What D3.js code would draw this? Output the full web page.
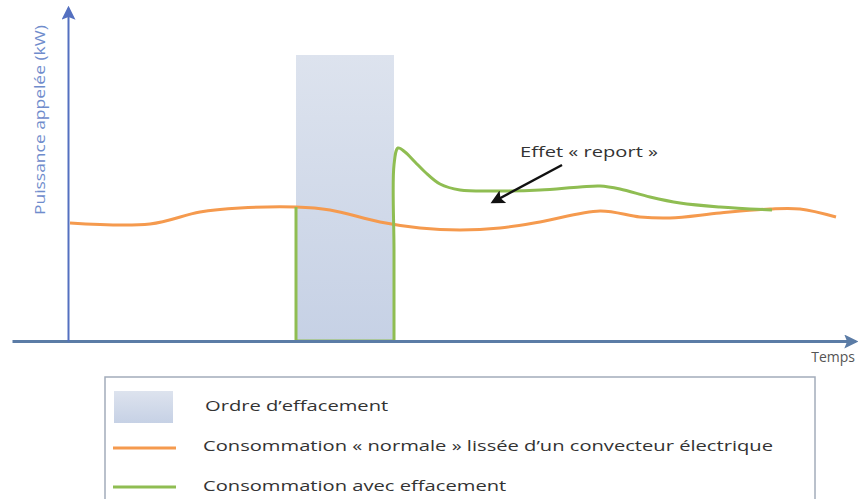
<!DOCTYPE html>
<html>
<head>
<meta charset="utf-8">
<script src="https://cdn.jsdelivr.net/npm/d3@7"></script>
<style>
  body { margin: 0; background: #fff; }
  svg { display: block; font-family: "Open Sans", sans-serif; }
</style>
</head>
<body>
<div id="chart"></div>
<script>
// time (arbitrary units) and power (arbitrary units)
const normalT = [2, 82, 132, 172, 228, 262, 312, 352, 392, 432, 472, 532, 572, 602, 652, 702, 732, 768];
const normalP = [118, 117, 129, 133, 134, 131, 119, 113, 111, 113, 119, 130, 124, 123, 128, 132, 132, 124];

const cutT = [228, 228, 326];
const cutP = [134, 0, 0];

const reboundT = [326, 326, 326, 330, 337, 347, 357, 372, 392, 432, 472, 512, 532, 552, 582, 612, 652, 704];
const reboundP = [0, 91, 176, 193, 189, 179, 169, 157, 151, 150, 151, 154, 155, 152, 144, 138, 134, 131];

const orderWindow = [228, 326];
const orderTop = 286;

const labels = {
  y: "Puissance appelée (kW)",
  x: "Temps",
  note: "Effet « report »"
};
const notePos = [452, 188];
const arrowFrom = [494, 176], arrowTo = [425, 139];

const legendItems = ["Ordre d’effacement",
  "Consommation « normale » lissée d’un convecteur électrique",
  "Consommation avec effacement"];

const width = 864, height = 499;
const orange = "#f59a4e", green = "#8fbd52";

const svg = d3.select("#chart").append("svg")
  .attr("width", width).attr("height", height);

const defs = svg.append("defs");
const grad = defs.append("linearGradient").attr("id", "ordre")
  .attr("x1", 0).attr("y1", 0).attr("x2", 0).attr("y2", 1);
grad.append("stop").attr("offset", "0%").attr("stop-color", "#dde3ee");
grad.append("stop").attr("offset", "100%").attr("stop-color", "#c6d1e5");

function arrowMarker(id, color, w, h) {
  defs.append("marker").attr("id", id)
    .attr("viewBox", "0 0 10 10").attr("refX", 8).attr("refY", 5)
    .attr("markerWidth", w).attr("markerHeight", h)
    .attr("markerUnits", "userSpaceOnUse")
    .attr("orient", "auto")
    .append("path").attr("d", "M0,0L10,5L0,10L2,5Z").attr("fill", color);
}
arrowMarker("arrX", "#5b7ca6", 14, 14);
arrowMarker("arrY", "#5470c0", 14, 14);
arrowMarker("arrK", "#111", 16, 14);

let x = d3.scaleLinear().domain([-56, 787]).range([12, 855]);
let y = d3.scaleLinear().domain([0, 333]).range([341, 8]);

// effacement window
svg.append("rect")
  .attr("x", x(orderWindow[0]))
  .attr("y", y(orderTop))
  .attr("width", x(orderWindow[1]) - x(orderWindow[0]))
  .attr("height", y(0) - y(orderTop))
  .attr("fill", "url(#ordre)");

function buildLine(ts, ps, color, curve) {
  let line = d3.line()
    .x(d => x(ts[d]))
    .y(d => y(ps[d]))
    .curve(curve);
  svg.append("path")
    .datum(d3.range(ts.length))
    .attr("fill", "none")
    .attr("stroke", color)
    .attr("stroke-width", 3)
    .attr("stroke-linejoin", "round")
    .attr("d", line);
}

buildLine(normalT, normalP, orange, d3.curveCatmullRom.alpha(0.5));
buildLine(cutT, cutP, green, d3.curveLinear);
buildLine(reboundT, reboundP, green, d3.curveCatmullRom.alpha(0.5));

// axes without ticks, arrows on the ends
let xAxis = svg.append("g")
  .attr("transform", `translate(0,${y(0)})`)
  .call(d3.axisBottom(x).tickValues([]).tickSizeOuter(0));
xAxis.select(".domain")
  .attr("stroke", "#5b7ca6").attr("stroke-width", 3)
  .attr("marker-end", "url(#arrX)");

let yAxis = svg.append("g")
  .attr("transform", `translate(${x(0)},0)`)
  .call(d3.axisLeft(y).tickValues([]).tickSizeOuter(0));
yAxis.select(".domain")
  .attr("stroke", "#5470c0").attr("stroke-width", 2)
  .attr("marker-end", "url(#arrY)");

svg.append("text")
  .attr("transform", `translate(41,120) rotate(-90)`)
  .attr("text-anchor", "middle")
  .attr("dominant-baseline", "middle")
  .attr("fill", "#6f8ccc")
  .attr("font-size", 14)
  .attr("textLength", 190)
  .attr("lengthAdjust", "spacingAndGlyphs")
  .text(labels.y);

svg.append("text")
  .attr("x", 855).attr("y", 358)
  .attr("text-anchor", "end")
  .attr("dominant-baseline", "middle")
  .attr("fill", "#555")
  .attr("font-size", 14)
  .text(labels.x);

// annotation
svg.append("text")
  .attr("x", x(notePos[0])).attr("y", y(notePos[1]))
  .attr("dominant-baseline", "middle")
  .attr("fill", "#333")
  .attr("font-size", 15)
  .attr("textLength", 138)
  .attr("lengthAdjust", "spacingAndGlyphs")
  .text(labels.note);

svg.append("line")
  .attr("x1", x(arrowFrom[0])).attr("y1", y(arrowFrom[1]))
  .attr("x2", x(arrowTo[0])).attr("y2", y(arrowTo[1]))
  .attr("stroke", "#111").attr("stroke-width", 2.5)
  .attr("marker-end", "url(#arrK)");

// legend
let lg = svg.append("g");
lg.append("rect")
  .attr("x", 105).attr("y", 377)
  .attr("width", 710).attr("height", 140)
  .attr("fill", "#fff")
  .attr("stroke", "#a3acba").attr("stroke-width", 1.5);

lg.append("rect")
  .attr("x", 114).attr("y", 391).attr("width", 59).attr("height", 32)
  .attr("fill", "url(#ordre)");
lg.append("line")
  .attr("x1", 113).attr("x2", 176).attr("y1", 448).attr("y2", 448)
  .attr("stroke", orange).attr("stroke-width", 3);
lg.append("line")
  .attr("x1", 113).attr("x2", 176).attr("y1", 487).attr("y2", 487)
  .attr("stroke", green).attr("stroke-width", 3);

const legY = [407, 447, 487], legX = [205, 203, 203];
let legTexts = legendItems.map((t, i) => lg.append("text")
    .attr("x", legX[i]).attr("y", legY[i])
    .attr("dominant-baseline", "middle")
    .attr("fill", "#333")
    .attr("font-size", 15)
    .text(t));
// stretch all legend lines by the same factor so the long one spans the box
let stretch = 570 / legTexts[1].node().getComputedTextLength();
legTexts.forEach(t => t
  .attr("textLength", t.node().getComputedTextLength() * stretch)
  .attr("lengthAdjust", "spacingAndGlyphs"));
</script>
</body>
</html>
